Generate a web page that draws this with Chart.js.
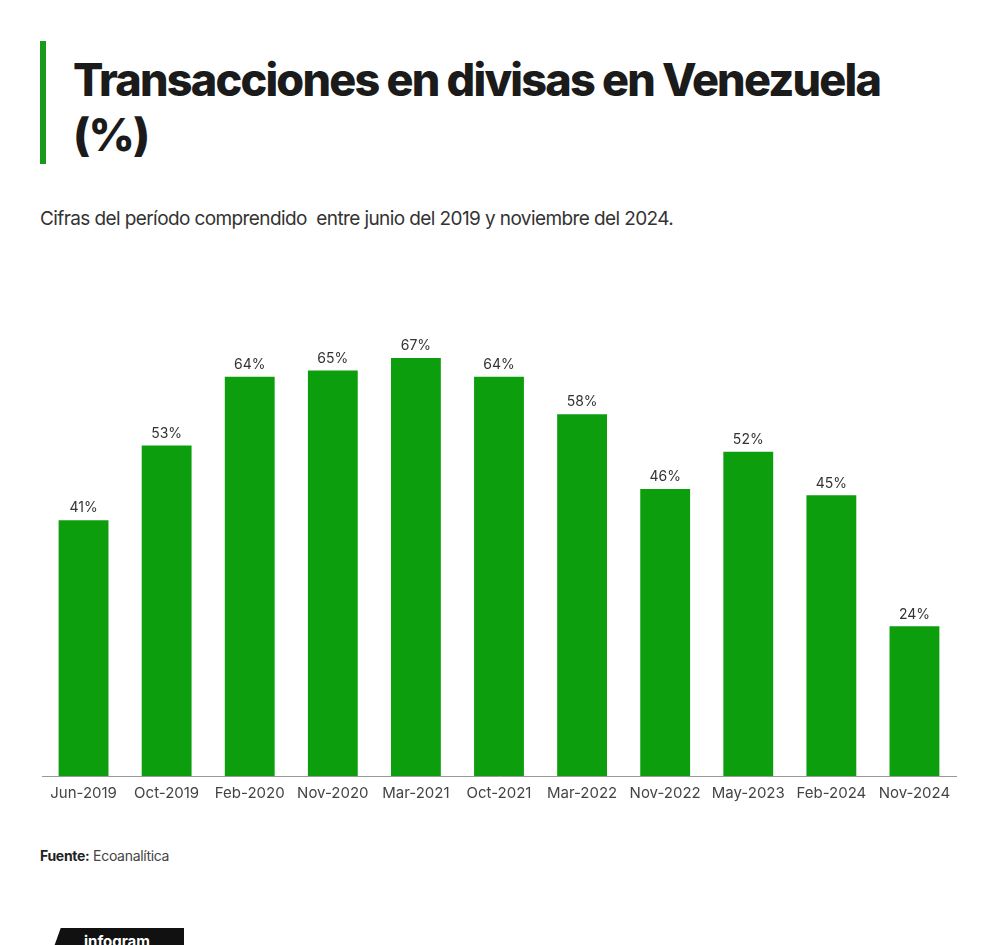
<!DOCTYPE html>
<html>
<head>
<meta charset="utf-8">
<script src="https://cdn.jsdelivr.net/npm/chart.js@4"></script>
<style>
  body { margin: 0; width: 1000px; height: 945px; background: #fff; font-family: Inter, "Noto Sans", sans-serif; position: relative; overflow: hidden; }
  .bar { position: absolute; left: 40px; top: 41px; width: 6px; height: 123px; background: #1a9a1a; }
  h1 { position: absolute; left: 73px; top: 52px; margin: 0; font-size: 45px; line-height: 55px; font-weight: 800; color: #1b1b1b; letter-spacing: -1.8px; }
  .sub { position: absolute; left: 40px; top: 207px; font-size: 19px; color: #333; letter-spacing: -0.6px; }
  .src { position: absolute; left: 40px; top: 847px; font-size: 14px; color: #444; letter-spacing: -0.3px; }
  .src b { color: #222; }
  .logo { position: absolute; left: 50px; top: 928px; width: 134px; height: 30px; background: #111; clip-path: polygon(8% 0, 100% 0, 100% 100%, 0 100%); color: #fff; font-weight: 700; font-size: 15px; text-align: center; line-height: 28px; }
  #wrap { position: absolute; left: 40px; top: 270px; width: 920px; height: 540px; }
</style>
</head>
<body>
<div class="bar"></div>
<h1>Transacciones en divisas en Venezuela<br>(%)</h1>
<div class="sub">Cifras del período comprendido &nbsp;entre junio del 2019 y noviembre del 2024.</div>
<div id="wrap"><canvas id="c"></canvas></div>
<div class="src"><b>Fuente:</b> Ecoanalítica</div>
<div class="logo">infogram</div>
<script>
const labels = ['Jun-2019', 'Oct-2019', 'Feb-2020', 'Nov-2020', 'Mar-2021', 'Oct-2021', 'Mar-2022', 'Nov-2022', 'May-2023', 'Feb-2024', 'Nov-2024'];
const values = [41, 53, 64, 65, 67, 64, 58, 46, 52, 45, 24];

// value labels above each bar
const valueLabels = {
  id: 'valueLabels',
  afterDatasetsDraw(chart) {
    const ctx = chart.ctx;
    ctx.save();
    ctx.font = '14px Inter, "Noto Sans", sans-serif';
    ctx.fillStyle = '#333';
    ctx.textAlign = 'center';
    ctx.textBaseline = 'bottom';
    chart.getDatasetMeta(0).data.forEach((bar, i) => {
      ctx.fillText(values[i] + '%', bar.x, bar.y - 5);
    });
    ctx.restore();
  }
};

new Chart(document.getElementById('c'), {
  type: 'bar',
  data: { labels, datasets: [{ data: values, backgroundColor: '#0c9e0c', categoryPercentage: 1, barPercentage: 0.6 }] },
  options: {
    responsive: true,
    maintainAspectRatio: false,
    animation: false,
    layout: { padding: { top: 7, left: 2, right: 4 } },
    plugins: { legend: { display: false }, tooltip: { enabled: false } },
    scales: {
      x: {
        grid: { display: false, drawTicks: false },
        border: { color: '#999', width: 1 },
        ticks: { color: '#444', font: { size: 15, family: 'Inter, "Noto Sans", sans-serif' }, maxRotation: 0, padding: 8 }
      },
      y: { display: false, min: 0, max: 80 }
    }
  },
  plugins: [valueLabels]
});
</script>
</body>
</html>
